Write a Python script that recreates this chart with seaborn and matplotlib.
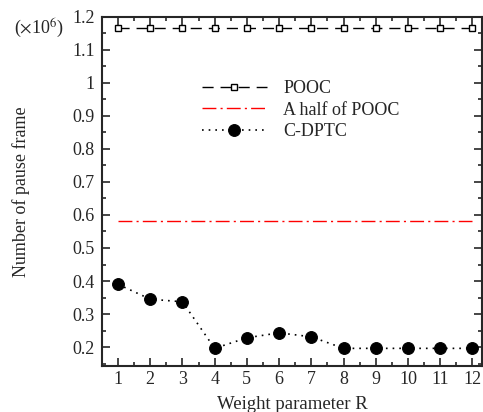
import matplotlib
matplotlib.use("Agg")
import matplotlib.pyplot as plt
import seaborn as sns
import pandas as pd
from matplotlib.ticker import MultipleLocator

R = [1, 2, 3, 4, 5, 6, 7, 8, 9, 10, 11, 12]
pooc = [1.165] * 12
half_pooc = [0.5825] * 12
cdptc = [0.390, 0.345, 0.337, 0.196, 0.228, 0.243, 0.231, 0.196, 0.196, 0.196, 0.196, 0.196]
x_ticks = [1, 2, 3, 4, 5, 6, 7, 8, 9, 10, 11, 12]
y_ticks = [0.2, 0.3, 0.4, 0.5, 0.6, 0.7, 0.8, 0.9, 1.0, 1.1, 1.2]
y_tick_labels = ["0.2", "0.3", "0.4", "0.5", "0.6", "0.7", "0.8", "0.9", "1", "1.1", "1.2"]

sns.set_style("ticks")
plt.rcParams['font.family'] = ['Liberation Serif', 'DejaVu Serif']
plt.rcParams['mathtext.fontset'] = 'stix'

df = pd.DataFrame({"R": R, "POOC": pooc, "Half": half_pooc, "CDPTC": cdptc})

fig = plt.figure(figsize=(4.83, 4.12), dpi=100)
ax = fig.add_axes([0.211, 0.112, 0.787, 0.847])

sns.lineplot(data=df, x="R", y="POOC", ax=ax, color="black", lw=1.0,
             dashes=False, linestyle=(0, (8, 5)), marker="s", markersize=5,
             markerfacecolor="white", markeredgecolor="black", markeredgewidth=1.0,
             label="POOC")
sns.lineplot(data=df, x="R", y="Half", ax=ax, color="red", lw=1.0,
             linestyle=(0, (10, 3, 1.5, 3)), label="A half of POOC")
sns.lineplot(data=df, x="R", y="CDPTC", ax=ax, color="black", lw=1.2,
             linestyle=(0, (1, 3)), marker="o", markersize=8.5,
             markerfacecolor="black", markeredgecolor="black", label="C-DPTC")

ax.set_xlim(0.5, 12.3)
ax.set_ylim(0.143, 1.2)
ax.set_xticks(x_ticks)
ax.set_xticklabels([str(v) for v in x_ticks])
ax.set_yticks(y_ticks)
ax.set_yticklabels(y_tick_labels)
ax.xaxis.set_minor_locator(MultipleLocator(0.5))
ax.yaxis.set_minor_locator(MultipleLocator(0.05))
ax.tick_params(which="both", direction="in", top=True, right=True, labelsize=13, width=1.2)
ax.tick_params(which="major", length=6)
ax.tick_params(which="minor", length=3)
ax.tick_params(axis="x", pad=4)
ax.tick_params(axis="y", pad=5)
for s in ax.spines.values():
    s.set_linewidth(1.5)

ax.set_xlabel("Weight parameter R", fontsize=13.5)
ax.xaxis.set_label_coords(0.5, -0.086)
ax.set_ylabel("Number of pause frame", fontsize=13)
ax.yaxis.set_label_coords(-0.19, 0.5)
fig.text(0.03, 0.93, r"($\times$10$^6$)", fontsize=13, ha="left", va="center")

leg = ax.legend(loc="upper left", bbox_to_anchor=(0.22, 0.865), frameon=False,
                fontsize=13, handlelength=3.6, handletextpad=0.9, labelspacing=0.25)

fig.savefig("out.png", dpi=100)
